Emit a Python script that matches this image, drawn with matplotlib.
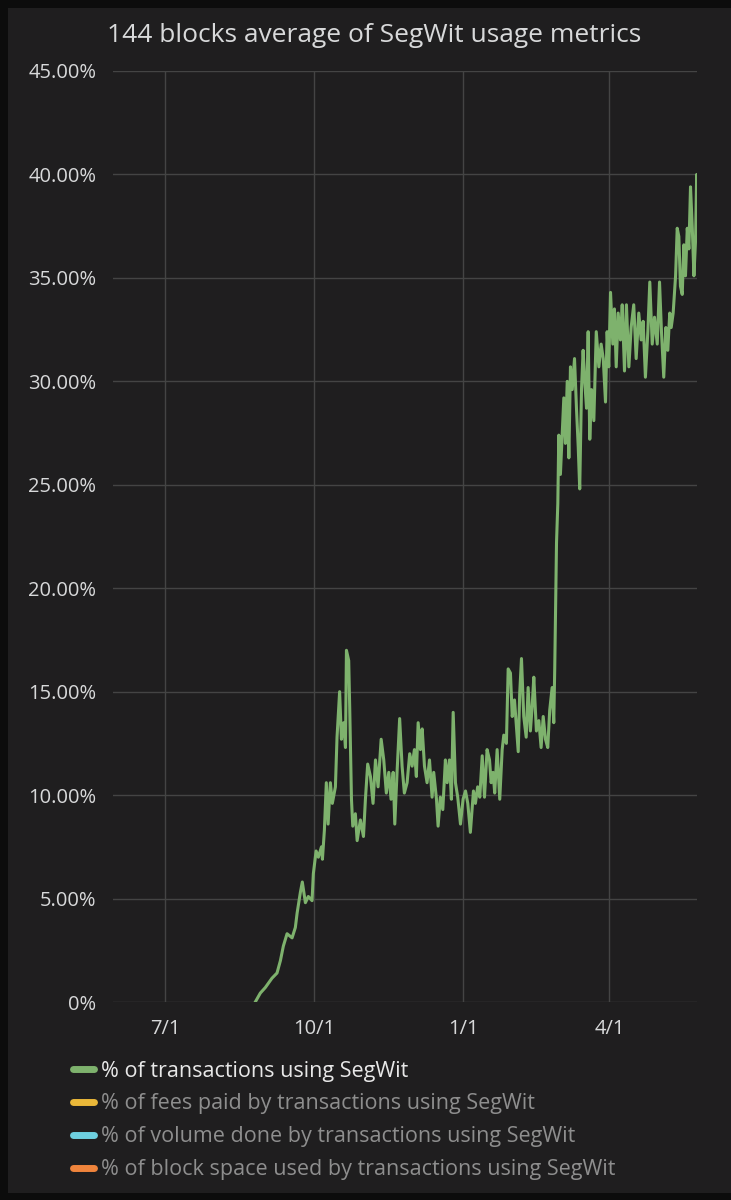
import pandas as pd
import matplotlib
matplotlib.use("Agg")
import matplotlib.pyplot as plt
from matplotlib.patches import Rectangle
from matplotlib.lines import Line2D

plt.rcParams["font.family"] = ["Open Sans", "DejaVu Sans"]

# days after 2017-07-01 and % of transactions using SegWit
day_offsets = [
    55.7, 58.8, 61.9, 66.0, 69.1, 71.2, 73.0, 75.3, 78.4, 80.4,
    81.5, 83.5, 84.7, 86.6, 88.4, 90.7, 91.5, 93.2, 94.6, 96.5,
    97.1, 98.3, 99.5, 100.6, 102.0, 103.2, 105.1, 106.1, 107.7, 108.8,
    110.2, 111.3, 111.9, 113.3, 113.9, 115.0, 115.8, 117.4, 118.5, 120.5,
    122.4, 123.6, 125.0, 126.7, 128.3, 129.8, 131.4, 133.3, 134.9, 136.5,
    138.0, 139.4, 140.7, 141.7, 143.1, 144.7, 146.2, 147.6, 149.3, 150.9,
    152.4, 153.8, 155.0, 156.1, 157.5, 158.6, 160.0, 161.6, 163.1, 164.7,
    165.7, 167.4, 168.4, 169.8, 171.3, 172.9, 174.0, 175.4, 176.6, 177.7,
    179.1, 180.5, 182.2, 183.8, 185.3, 186.7, 188.3, 190.2, 191.4, 192.8,
    194.1, 195.6, 197.0, 198.6, 200.1, 201.1, 202.3, 203.3, 204.8, 206.4,
    207.9, 208.9, 210.5, 211.6, 213.0, 214.1, 215.5, 216.7, 217.8, 218.7,
    219.8, 221.2, 222.7, 223.9, 225.3, 226.4, 227.4, 229.0, 230.5, 231.9,
    233.2, 234.6, 236.0, 237.2, 238.7, 239.7, 240.3, 241.4, 242.2, 242.8,
    243.8, 244.9, 245.9, 246.9, 248.0, 249.0, 250.0, 251.1, 252.5, 253.7,
    254.8, 255.7, 256.8, 257.8, 258.8, 259.9, 260.9, 261.9, 263.0, 264.4,
    265.9, 267.5, 268.9, 270.2, 271.6, 272.6, 273.6, 274.7, 276.1, 277.1,
    278.2, 279.4, 280.8, 281.9, 283.3, 284.5, 286.0, 287.4, 289.0, 290.5,
    292.1, 293.6, 294.8, 296.2, 297.7, 298.9, 300.4, 301.8, 303.5, 304.9,
    306.1, 307.5, 308.8, 310.0, 311.2, 312.1, 313.3, 314.8, 315.8, 316.8,
    317.8, 318.9, 319.9, 320.9, 322.0, 323.0, 324.0, 325.1, 326.1, 327.1,
    327.8, 328.2,
]
tx_segwit_pct = [
    0.0, 0.43, 0.7, 1.15, 1.4, 2.0, 2.7, 3.3, 3.1, 3.6,
    4.3, 5.3, 5.8, 4.8, 5.1, 4.9, 6.2, 7.3, 7.0, 7.5,
    6.9, 8.3, 10.6, 8.6, 10.6, 9.6, 10.4, 12.8, 15.0, 12.7,
    13.5, 12.3, 17.0, 16.5, 14.3, 9.8, 8.5, 9.1, 7.8, 8.8,
    8.0, 9.8, 11.5, 10.9, 9.6, 11.7, 10.4, 12.7, 11.7, 10.1,
    11.1, 9.8, 11.1, 8.6, 11.1, 13.7, 11.4, 10.1, 10.6, 12.0,
    11.4, 12.2, 10.9, 13.5, 12.2, 13.2, 11.4, 10.6, 11.7, 9.9,
    11.1, 9.8, 8.5, 9.9, 9.3, 11.7, 10.6, 11.7, 9.8, 14.0,
    10.6, 9.9, 8.6, 9.8, 10.2, 9.6, 8.2, 10.2, 9.6, 10.4,
    9.9, 11.9, 9.9, 12.2, 11.7, 10.6, 11.1, 10.1, 12.2, 9.8,
    12.2, 12.9, 12.5, 16.1, 15.9, 13.8, 14.6, 13.3, 12.1, 14.9,
    16.6, 13.8, 12.8, 15.2, 13.1, 14.3, 15.7, 13.1, 13.6, 12.3,
    13.8, 12.7, 12.3, 14.1, 15.2, 13.5, 16.1, 22.2, 24.1, 27.4,
    25.5, 27.4, 29.2, 27.0, 30.0, 26.3, 30.7, 29.6, 31.1, 28.7,
    26.8, 24.8, 29.6, 31.5, 30.0, 28.7, 32.4, 27.2, 29.6, 28.1,
    32.4, 30.7, 31.8, 31.1, 29.0, 32.4, 30.7, 34.3, 31.8, 33.5,
    30.7, 33.3, 32.0, 33.7, 30.5, 33.7, 30.7, 32.6, 33.7, 31.1,
    33.3, 32.0, 32.9, 30.2, 32.4, 34.8, 31.8, 33.1, 31.8, 34.8,
    32.4, 30.2, 32.6, 31.5, 33.3, 32.6, 33.3, 35.1, 37.4, 37.0,
    34.6, 34.2, 36.6, 35.1, 37.4, 36.4, 39.4, 37.4, 35.1, 36.8,
    40.0, 37.4,
]

series_names = [
    "% of transactions using SegWit",
    "% of fees paid by transactions using SegWit",
    "% of volume done by transactions using SegWit",
    "% of block space used by transactions using SegWit",
]
series_colors = ["#7eb26d", "#eab839", "#6ed0e0", "#ef843c"]

y_ticks = [0, 5, 10, 15, 20, 25, 30, 35, 40, 45]
x_tick_dates = ["2017-07-01", "2017-10-01", "2018-01-01", "2018-04-01"]
x_tick_labels = ["7/1", "10/1", "1/1", "4/1"]

panel_bg = "#1f1e1f"
text_col = "#d8d9da"
grid_col = "#444444"

start = pd.Timestamp("2017-07-01")
dates = start + pd.to_timedelta(day_offsets, unit="D")

fig = plt.figure(figsize=(7.31, 12), dpi=100, facecolor="#0c0c0c")
fig.patches.append(Rectangle((8 / 731, 7 / 1200), 1, 1 - 15 / 1200,
                             transform=fig.transFigure, facecolor=panel_bg,
                             edgecolor="none", zorder=-10))

ax = fig.add_axes([113 / 731, 1 - 1002 / 1200, 584 / 731, 931 / 1200])
ax.set_facecolor(panel_bg)
ax.plot(dates, tx_segwit_pct, color=series_colors[0], lw=2.2)

ax.set_ylim(0, 45)
ax.set_yticks(y_ticks)
ax.set_yticklabels(["0%" if v == 0 else f"{v:.2f}%" for v in y_ticks])
ax.set_xlim(pd.Timestamp("2017-05-30"), pd.Timestamp("2018-05-25"))
ax.set_xticks(pd.to_datetime(x_tick_dates))
ax.set_xticklabels(x_tick_labels)

ax.grid(True, color=grid_col, lw=1)
ax.set_axisbelow(True)
for s in ax.spines.values():
    s.set_visible(False)
ax.tick_params(length=0, colors=text_col, labelsize=14.5)
ax.tick_params(axis="y", pad=12)
ax.tick_params(axis="x", pad=12)

fig.text(374 / 731, 1 - 35 / 1200, "144 blocks average of SegWit usage metrics",
         ha="center", va="center", color=text_col, fontsize=19)

# legend: only the first series is shown, the rest are toggled off
handles = [Line2D([0], [0], color=c, lw=5, solid_capstyle="round") for c in series_colors]
leg = fig.legend(handles, series_names, loc="upper left",
                 bbox_to_anchor=(64 / 731, 1 - 1052 / 1200), frameon=False,
                 fontsize=15.5, handlelength=1.0, handletextpad=0.3,
                 labelspacing=0.55, borderaxespad=0)
for i, t in enumerate(leg.get_texts()):
    t.set_color("#e8e8e8" if i == 0 else "#8e8e8e")

fig.savefig("out.png", dpi=100, facecolor=fig.get_facecolor())
